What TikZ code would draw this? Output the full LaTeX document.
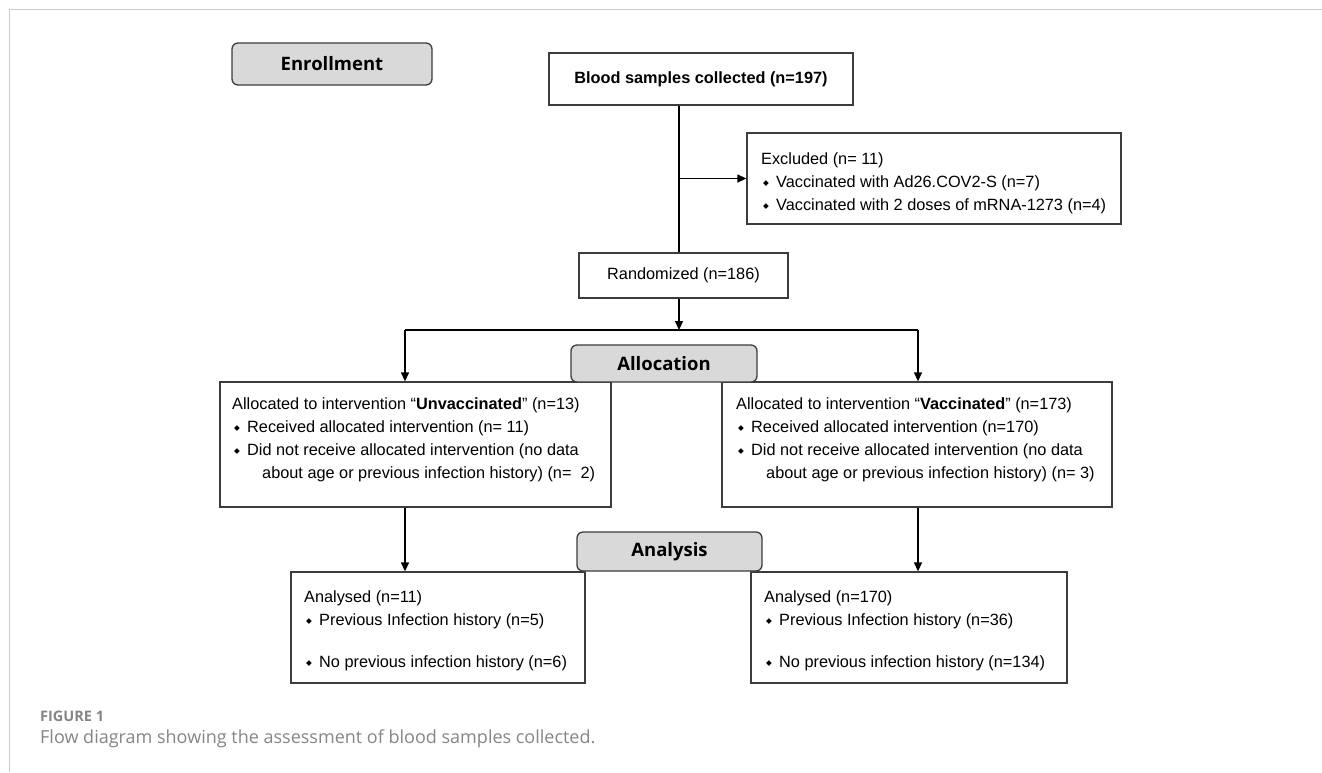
\documentclass[tikz,border=0pt]{standalone}
\usepackage{fontspec}
\setmainfont{Liberation Sans}
\newfontfamily\hdrfont{Open Sans}
\newfontfamily\symfont{DejaVu Sans}
\usetikzlibrary{arrows.meta,calc}
\definecolor{boxline}{HTML}{3C3C3C}
\definecolor{hdrfill}{HTML}{D9D9D9}
\definecolor{framegray}{HTML}{CCCCCC}
\definecolor{capgray}{HTML}{858585}
\newcommand\bul{\makebox[15pt][l]{\hspace{2pt}\raisebox{1.5pt}{\fontsize{7.5}{7.5}\symfont ◆}}}
\newcommand\topstrut{\rule{0pt}{13pt}}
\begin{document}
\begin{tikzpicture}[x=1pt,y=-1pt,
  box/.style={draw=boxline, line width=1.3pt, rectangle, inner sep=0pt},
  hdr/.style={draw=boxline, fill=hdrfill, line width=1.3pt, rounded corners=6pt, inner sep=0pt,
    font=\hdrfont\bfseries\fontsize{18.5}{20}\selectfont},
  txt/.style={anchor=north west, inner sep=0pt, align=left, font=\fontsize{16.3}{23}\selectfont},
  conn/.style={line width=1.3pt, black},
  arr/.style={conn, -{Triangle[length=9pt,width=8pt]}},
  frameline/.style={draw=framegray, line width=1.5pt},
  captext/.style={anchor=base west, inner sep=0pt, text=capgray}]
\useasboundingbox (0,0) rectangle (1322,772);
\draw[frameline] (9.5,772) -- (9.5,9.5) -- (1322,9.5);

% boxes
\node[box, minimum width=304pt, minimum height=52pt, font=\bfseries\fontsize{16.3}{20}\selectfont] (blood) at (701,79) {Blood samples collected (n=197)};
\node[box, minimum width=374pt, minimum height=91pt] (excl) at (934,178.5) {};
\node[txt] (exclT) at (761,150.8) {\topstrut Excluded (n= 11)\\
  \bul Vaccinated with Ad26.COV2-S (n=7)\\
  \bul Vaccinated with 2 doses of mRNA-1273 (n=4)};
\node[box, minimum width=209pt, minimum height=45pt, font=\fontsize{16.3}{20}\selectfont] (rand) at (683.5,275.5) {Randomized (n=186)};

\node[box, minimum width=391pt, minimum height=125pt] (allocL) at (415.5,444.5) {};
\node[txt] (allocLT) at (232,396) {\topstrut Allocated to intervention “\textbf{Unvaccinated}” (n=13)\\
  \bul Received allocated intervention (n= 11)\\
  \bul Did not receive allocated intervention (no data\\
  \hspace*{30pt}about age or previous infection history) (n=\ \ 2)};
\node[box, minimum width=390pt, minimum height=125pt] (allocR) at (917,444.5) {};
\node[txt] (allocRT) at (736,396) {\topstrut Allocated to intervention “\textbf{Vaccinated}” (n=173)\\
  \bul Received allocated intervention (n=170)\\
  \bul Did not receive allocated intervention (no data\\
  \hspace*{30pt}about age or previous infection history) (n= 3)};

\node[box, minimum width=294pt, minimum height=111pt] (anaL) at (438,627.5) {};
\node[txt] (anaLT) at (304,588.8) {\topstrut Analysed (n=11)\\
  \bul Previous Infection history (n=5)\\[19pt]
  \bul No previous infection history (n=6)};
\node[box, minimum width=316pt, minimum height=111pt] (anaR) at (909,627.5) {};
\node[txt] (anaRT) at (764,588.8) {\topstrut Analysed (n=170)\\
  \bul Previous Infection history (n=36)\\[19pt]
  \bul No previous infection history (n=134)};

% connectors
\coordinate (split) at (679,330);
\coordinate (cL) at (405,330);
\coordinate (cR) at (918,330);
\draw[conn] (blood.south -| split) -- (rand.north -| split);
\draw[arr] (split |- excl.west) -- (excl.west);
\draw[arr] (rand.south -| split) -- (split);
\draw[conn] (cL) -- (cR);
\draw[arr] (cL) -- (cL |- allocL.north);
\draw[arr] (cR) -- (cR |- allocR.north);
\draw[arr] (cL |- allocL.south) -- (cL |- anaL.north);
\draw[arr] (cR |- allocR.south) -- (cR |- anaR.north);

% stage headers
\node[hdr, minimum width=200pt, minimum height=42pt] (enroll) at (332,64) {Enrollment};
\node[hdr, minimum width=186pt, minimum height=37pt] (alloc) at (664,363.5) {Allocation};
\node[hdr, minimum width=185pt, minimum height=39pt] (ana) at (669.5,551.5) {Analysis};

% caption
\node[captext, font=\hdrfont\bfseries\fontsize{14.5}{16}\selectfont] (figlab) at (40,721) {FIGURE 1};
\node[captext, font=\hdrfont\fontsize{18}{20}\selectfont] (caption) at (40,743.5) {Flow diagram showing the assessment of blood samples collected.};
\end{tikzpicture}
\end{document}
